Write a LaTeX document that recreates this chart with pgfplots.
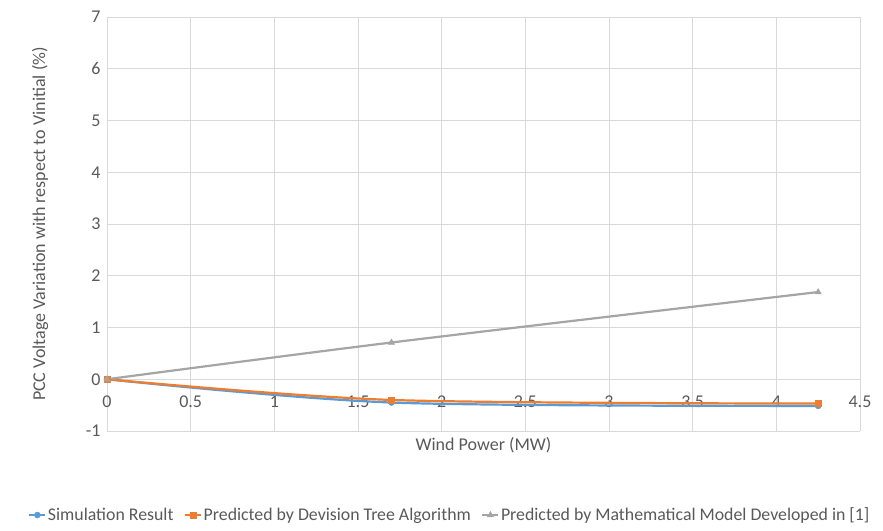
\documentclass[border=0pt]{standalone}
\usepackage{fontspec}
\setmainfont{Carlito}
\usepackage{pgfplots}
\pgfplotsset{compat=1.18}
\definecolor{sblue}{HTML}{5B9BD5}
\definecolor{sorange}{HTML}{ED7D31}
\definecolor{sgray}{HTML}{A5A5A5}
\definecolor{gridc}{HTML}{D9D9D9}
\definecolor{txt}{HTML}{595959}
\begin{document}
\begin{tikzpicture}
\path[use as bounding box] (-107pt,-99pt) rectangle (776pt,431pt);
\begin{axis}[
  at={(0,0)}, anchor=south west,
  scale only axis, width=753pt, height=414pt,
  xmin=0, xmax=4.5, ymin=-1, ymax=7,
  xtick={0,0.5,...,4.5}, ytick={-1,0,...,7},
  grid=major,
  major grid style={gridc, line width=0.8pt},
  axis line style={draw=none},
  tick style={draw=none},
  /pgf/number format/assume math mode=true,
  tick label style={font=\fontsize{18}{21}\selectfont, text=txt},
  xticklabel style={anchor=center, yshift=29pt},
  yticklabel style={xshift=-3pt},
  xlabel={Wind Power (MW)},
  ylabel={PCC Voltage Variation with respect to Vinitial (\%)},
  label style={font=\fontsize{18}{21}\selectfont, text=txt},
  xlabel style={at={(axis description cs:0.5,-0.034)}, anchor=center},
  ylabel style={at={(axis description cs:-0.089,0.5)}, anchor=center},
  legend columns=3,
  legend style={draw=none, fill=none, font=\fontsize{17.8}{21}\selectfont, text=txt,
    at={(axis description cs:0.455,-0.203)}, anchor=center,
    /tikz/every odd column/.append style={column sep=0pt},
    /tikz/every even column/.append style={column sep=9pt},
    nodes={inner sep=1.5pt}},
  legend image code/.code={
    \draw[#1, mark repeat=2, mark phase=2] plot coordinates {(0pt,0pt) (8pt,0pt) (16pt,0pt)};
  },
]
\addplot[sblue, line width=2.2pt, smooth, mark=*, mark size=3pt, mark options={solid, fill=sblue, line width=0.5pt}]
  coordinates {(0,0) (1.7,-0.45) (4.25,-0.515)};
\addlegendentry{Simulation Result}
\addplot[sorange, line width=2.2pt, smooth, mark=square*, mark size=3pt, mark options={solid, fill=sorange, line width=0.5pt}]
  coordinates {(0,0) (1.7,-0.40) (4.25,-0.47)};
\addlegendentry{Predicted by Devision Tree Algorithm}
\addplot[sgray, line width=2.2pt, smooth, mark=triangle*, mark size=3.5pt, mark options={solid, fill=sgray, line width=0.5pt}]
  coordinates {(0,0) (1.7,0.71) (4.25,1.685)};
\addlegendentry{Predicted by Mathematical Model Developed in [1]}
\end{axis}
\end{tikzpicture}
\end{document}
